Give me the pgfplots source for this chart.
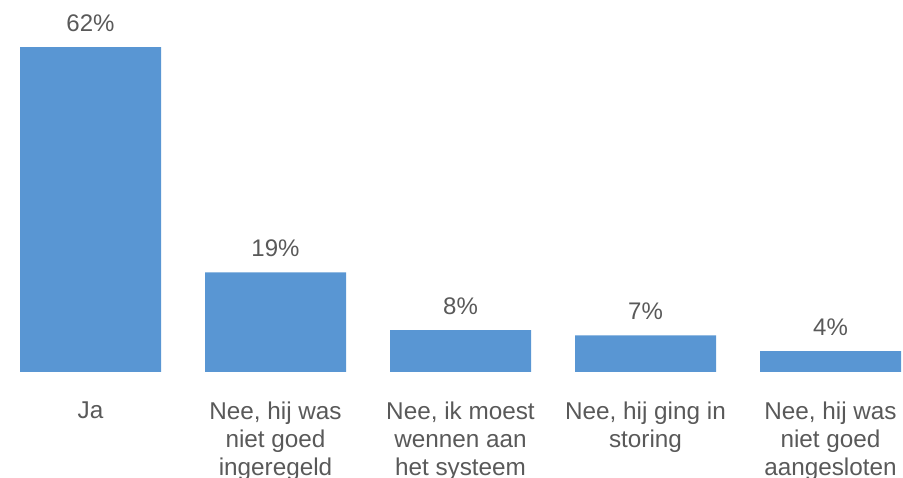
\documentclass[border=0pt]{standalone}
\usepackage{fontspec}
\setmainfont{Liberation Sans}
\usepackage{pgfplots}
\pgfplotsset{compat=1.18}
\definecolor{BarBlue}{HTML}{5996D3}
\definecolor{TextGray}{HTML}{595959}
\begin{document}
\begin{tikzpicture}
\useasboundingbox (0,0) rectangle (903pt,478pt);
\begin{axis}[
    at={(0pt,106pt)}, anchor=south west,
    scale only axis, width=903pt, height=372pt,
    xmin=-0.4892, xmax=4.3919,
    ymin=0, ymax=70.97,
    axis line style={draw=none},
    major tick style={draw=none},
    ytick=\empty,
    xtick=data,
    xticklabels={Ja, {Nee, hij was\\niet goed\\ingeregeld}, {Nee, ik moest\\wennen aan\\het systeem}, {Nee, hij ging in\\storing}, {Nee, hij was\\niet goed\\aangesloten}},
    xticklabel style={align=center, font=\fontsize{24.3}{28}\selectfont, text=TextGray, anchor=north, yshift=-26pt},
    /pgf/number format/assume math mode=true,
    nodes near coords={\pgfmathprintnumber{\pgfplotspointmeta}\%},
    every node near coord/.append style={font=\fontsize{24}{28}\selectfont, text=TextGray, yshift=12pt},
    clip=false,
]
\addplot[ybar, bar width=141pt, fill=BarBlue, draw=none] coordinates {
    (0,62) (1,19) (2,8) (3,7) (4,4)
};
\end{axis}
\end{tikzpicture}
\end{document}
